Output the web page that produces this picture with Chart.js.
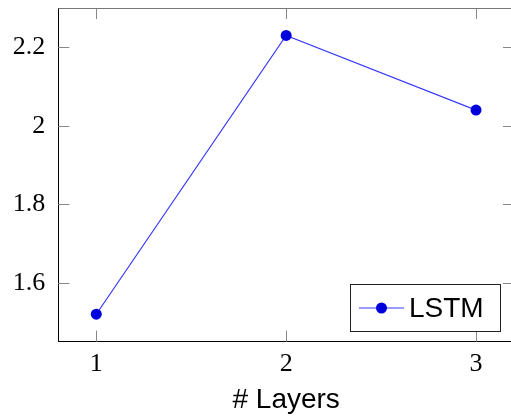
<!doctype html>
<html lang="en">
  <head>
    <meta charset="utf-8">
    <title>LSTM layers</title>
    <style>
      * { margin: 0; padding: 0; }
      html, body { width: 511px; height: 417px; overflow: hidden; background: white; }
      .chartBox { width: 530px; height: 417px; }
    </style>
  </head>
  <body>
    <div class="chartBox">
      <canvas id="myChart" width="530" height="417"></canvas>
    </div>
    <script src="https://cdn.jsdelivr.net/npm/chart.js/dist/chart.umd.min.js"></script>
    <script>
    // setup
    const layers = [1, 2, 3];
    const lstmValues = [1.52, 2.23, 2.04];
    const xTicks = [1, 2, 3];
    const yTicks = [1.6, 1.8, 2, 2.2];

    const serif = '"Liberation Serif", serif';
    const sans = '"Liberation Sans", sans-serif';

    // no extra room for tick label overflow, the frame is fixed
    const noPad = s => { s.paddingTop = 0; s.paddingBottom = 0; s.paddingLeft = 0; s.paddingRight = 0; };

    // pgfplots style inward ticks on all four sides + top/right border + legend box
    const pgfFrame = {
      id: 'pgfFrame',
      afterDraw(chart) {
        const { ctx, chartArea: { top, bottom, left, right }, scales: { x, y } } = chart;
        ctx.save();
        ctx.lineWidth = 1;
        ctx.strokeStyle = '#888';
        ctx.beginPath();
        xTicks.forEach(v => {
          const px = Math.round(x.getPixelForValue(v)) + 0.5;
          ctx.moveTo(px, bottom); ctx.lineTo(px, bottom - 11);
          ctx.moveTo(px, top); ctx.lineTo(px, top + 11);
        });
        yTicks.forEach(v => {
          const py = Math.round(y.getPixelForValue(v)) + 0.5;
          ctx.moveTo(left, py); ctx.lineTo(left + 11, py);
          ctx.moveTo(right, py); ctx.lineTo(right - 11, py);
        });
        ctx.stroke();
        // top and right border
        ctx.strokeStyle = '#777';
        ctx.beginPath();
        ctx.moveTo(left, top + 0.5); ctx.lineTo(right, top + 0.5);
        ctx.moveTo(right - 0.5, top); ctx.lineTo(right - 0.5, bottom);
        ctx.stroke();

        // legend
        const ds = chart.data.datasets[0];
        const bx = 350.5, by = 284.5, bw = 150, bh = 47;
        ctx.fillStyle = 'white';
        ctx.fillRect(bx, by, bw, bh);
        ctx.strokeStyle = '#222';
        ctx.strokeRect(bx, by, bw, bh);
        const my = by + bh / 2;
        ctx.strokeStyle = ds.borderColor;
        ctx.lineWidth = ds.borderWidth;
        ctx.beginPath();
        ctx.moveTo(359, my); ctx.lineTo(404, my);
        ctx.stroke();
        ctx.fillStyle = ds.pointBackgroundColor;
        ctx.beginPath();
        ctx.arc(381.5, my, 5.5, 0, 2 * Math.PI);
        ctx.fill();
        ctx.fillStyle = 'black';
        ctx.font = '28px ' + sans;
        ctx.textBaseline = 'middle';
        ctx.fillText(ds.label, 409, my + 1);
        ctx.restore();
      }
    };

    const data = {
      datasets: [{
        label: 'LSTM',
        data: layers.map((l, i) => ({ x: l, y: lstmValues[i] })),
        borderColor: '#3a3aff',
        borderWidth: 1.2,
        pointBackgroundColor: '#0000dd',
        pointBorderColor: '#0000dd',
        pointRadius: 5.5,
        pointBorderWidth: 0,
        tension: 0
      }]
    };

    // config
    const config = {
      type: 'line',
      data,
      options: {
        responsive: false,
        animation: false,
        layout: { padding: { top: 8, right: 16, left: 0, bottom: 0 } },
        plugins: {
          legend: { display: false },
          tooltip: { enabled: false }
        },
        scales: {
          x: {
            type: 'linear',
            min: 0.8,
            max: 3.2,
            afterBuildTicks: s => { s.ticks = xTicks.map(v => ({ value: v })); },
            afterFit: s => { s.height = 75.3; noPad(s); },
            grid: { display: false, drawTicks: false },
            border: { display: true, color: '#000', width: 1 },
            ticks: {
              padding: 7,
              color: '#000',
              font: { family: serif, size: 26 }
            },
            title: {
              display: true,
              text: '# Layers',
              color: '#000',
              font: { family: sans, size: 28 },
              padding: { top: 3, bottom: 0 }
            }
          },
          y: {
            min: 1.45,
            max: 2.3,
            afterBuildTicks: s => { s.ticks = yTicks.map(v => ({ value: v })); },
            afterFit: s => { s.width = 58.3; noPad(s); },
            grid: { display: false, drawTicks: false },
            border: { display: true, color: '#000', width: 1 },
            ticks: {
              padding: 13,
              color: '#000',
              font: { family: serif, size: 26 },
              callback: v => String(v)
            }
          }
        }
      },
      plugins: [pgfFrame]
    };

    // render init block
    const myChart = new Chart(document.getElementById('myChart'), config);
    </script>
  </body>
</html>
